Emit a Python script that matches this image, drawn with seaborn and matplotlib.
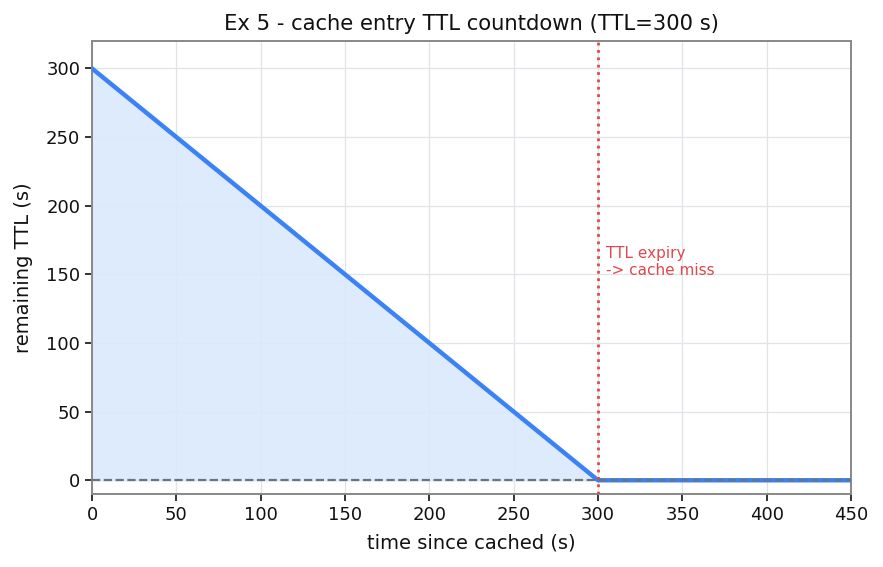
import matplotlib
matplotlib.use("Agg")
import matplotlib.pyplot as plt
import seaborn as sns
import pandas as pd

ttl = 300
t_points = [0, 300, 450]
remaining = [300, 0, 0]
xlim = (0, 450)
ylim = (-10, 320)
xticks = [0, 50, 100, 150, 200, 250, 300, 350, 400, 450]
yticks = [0, 50, 100, 150, 200, 250, 300]

sns.set_theme(style="ticks")
plt.rcParams['font.family'] = ['DejaVu Sans']

df = pd.DataFrame({"t": t_points, "ttl": remaining})

fig = plt.figure(figsize=(8.83, 5.67), dpi=100)
ax = fig.add_axes([92/883, 1-494/567, (851-92)/883, (494-41)/567])

ax.fill_between(df["t"], df["ttl"], 0, color="#dbe9fd", alpha=0.9, zorder=1)
sns.lineplot(data=df, x="t", y="ttl", ax=ax, color="#3b82f6", linewidth=3.2, zorder=3)
ax.axhline(0, color="#6b7280", linestyle="--", linewidth=1.6, zorder=4)
ax.axvline(ttl, color="#dc4a4a", linestyle=":", linewidth=2, zorder=5)
ax.text(ttl + 5, 159, "TTL expiry\n-> cache miss", color="#e0474c", fontsize=11,
        va="center", ha="left", linespacing=1.15)

ax.set_xlim(*xlim)
ax.set_ylim(*ylim)
ax.set_xticks(xticks)
ax.set_yticks(yticks)
ax.grid(True, color="#e0e3e8", linewidth=0.9)
ax.set_axisbelow(True)
for s in ax.spines.values():
    s.set_color("#888888")
    s.set_linewidth(1.4)
ax.tick_params(colors="#333333", labelcolor="#111111", labelsize=13, width=1.4, length=5)
ax.set_xlabel("time since cached (s)", fontsize=14, color="#111111", labelpad=7)
ax.set_ylabel("remaining TTL (s)", fontsize=14, color="#111111", labelpad=9)
ax.set_title("Ex 5 - cache entry TTL countdown (TTL=300 s)", fontsize=15.2,
             color="#111111", pad=8)

fig.savefig("out.png", dpi=100)
